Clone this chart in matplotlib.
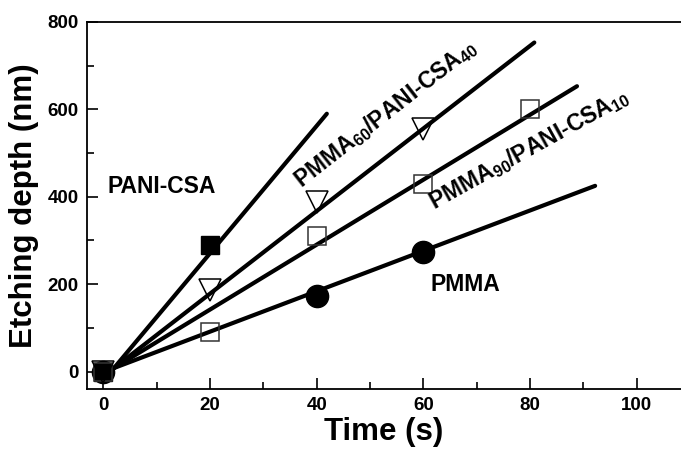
import matplotlib
matplotlib.use("Agg")
import matplotlib.pyplot as plt

plt.rcParams['font.family'] = ['Liberation Sans', 'DejaVu Sans']
plt.rcParams['font.weight'] = 'bold'
plt.rcParams['mathtext.fontset'] = 'custom'
plt.rcParams['mathtext.bf'] = 'Liberation Sans:bold'
plt.rcParams['mathtext.rm'] = 'Liberation Sans:bold'
plt.rcParams['mathtext.default'] = 'bf'

# measured points
t_pani = [0, 20]
d_pani = [0, 290]
t_p60 = [0, 20, 40, 60]
d_p60 = [0, 187, 388, 556]
t_p90 = [0, 20, 40, 60, 80]
d_p90 = [0, 90, 310, 430, 600]
t_pmma = [0, 40, 60]
d_pmma = [0, 173, 274]

# fitted lines (start / end points)
fit_pani_x = [2, 41.9]
fit_pani_y = [8, 590]
fit_p60_x = [2, 80.8]
fit_p60_y = [8, 753]
fit_p90_x = [2, 88.8]
fit_p90_y = [8, 653]
fit_pmma_x = [2, 92.2]
fit_pmma_y = [8, 425]

fig = plt.figure(figsize=(6.81, 4.57), dpi=100)
ax = fig.add_axes([87/681, (457-389)/457, (681-87)/681, (389-22)/457])

lw = 3
ax.plot(fit_pani_x, fit_pani_y, 'k-', lw=lw, solid_capstyle='round')
ax.plot(fit_p60_x, fit_p60_y, 'k-', lw=lw, solid_capstyle='round')
ax.plot(fit_p90_x, fit_p90_y, 'k-', lw=lw, solid_capstyle='round')
ax.plot(fit_pmma_x, fit_pmma_y, 'k-', lw=lw, solid_capstyle='round')

ax.plot(t_pmma, d_pmma, 'o', color='k', ms=16, ls='none')
ax.plot(t_pani, d_pani, 's', color='k', ms=13.5, ls='none')
ax.plot(t_p90, d_p90, 's', mfc='none', mec='#333333', mew=1.1, ms=13.5, ls='none')
ax.plot(t_p60, d_p60, 'v', mfc='none', mec='k', mew=1.1, ms=16, ls='none')

ax.set_xlim(-3.06, 108.3)
ax.set_ylim(-40, 800)
ax.set_xticks([0, 20, 40, 60, 80, 100])
ax.set_xticks([10, 30, 50, 70, 90], minor=True)
ax.set_yticks([0, 200, 400, 600, 800])
ax.set_yticks([100, 300, 500, 700], minor=True)
ax.tick_params(which='both', direction='in', top=False, right=False,
               labelsize=13.5, width=1.2)
ax.tick_params(which='major', length=8, pad=6)
ax.tick_params(which='minor', length=5)
for lab in ax.get_xticklabels() + ax.get_yticklabels():
    lab.set_fontweight('bold')
ax.spines['right'].set_visible(False)
for s in ['left', 'top', 'bottom']:
    ax.spines[s].set_linewidth(1.3)

ax.set_xlabel('Time (s)', fontsize=22.5, fontweight='bold', labelpad=2)
ax.set_ylabel('Etching depth (nm)', fontsize=22.5, fontweight='bold', labelpad=6)

fs = 16.5
ax.text(0.7, 408, 'PANI-CSA', fontsize=fs, fontweight='bold', ha='left', va='baseline')
ax.text(61.4, 184, 'PMMA', fontsize=fs, fontweight='bold', ha='left', va='baseline')
ax.text(37.2, 420, r'PMMA$_{60}$/PANI-CSA$_{40}$', fontsize=fs, fontweight='bold',
        rotation=38, rotation_mode='anchor', ha='left', va='baseline')
ax.text(62.0, 369, r'PMMA$_{90}$/PANI-CSA$_{10}$', fontsize=fs, fontweight='bold',
        rotation=29, rotation_mode='anchor', ha='left', va='baseline')

fig.savefig('out.png', dpi=100)
